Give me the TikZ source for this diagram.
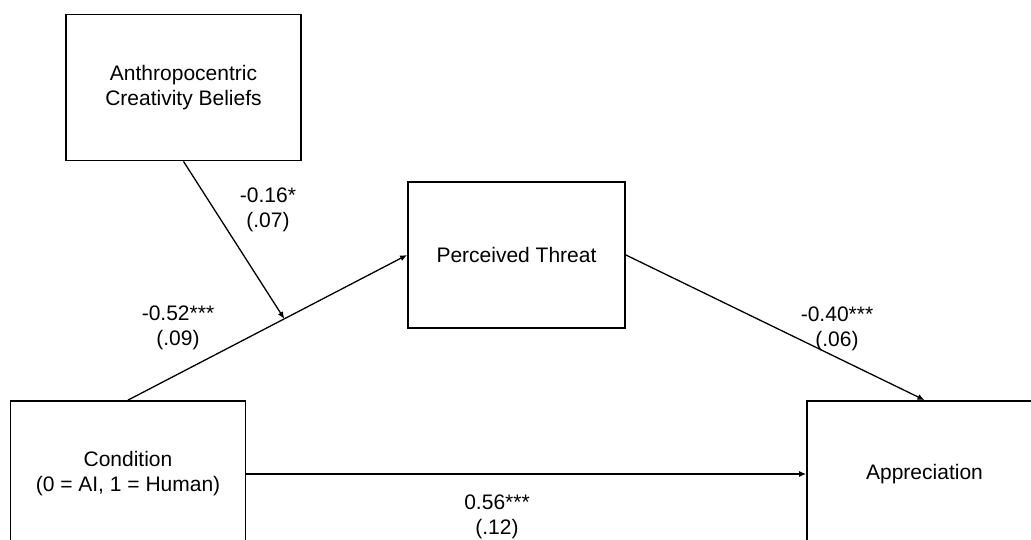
\documentclass[tikz,border=0pt]{standalone}
\usepackage{fontspec}
\setmainfont{Liberation Sans}
\usetikzlibrary{arrows.meta,calc}

\begin{document}
\begin{tikzpicture}[
  x=1pt,y=-1pt,
  font=\fontsize{21}{25}\selectfont,
  >={Latex[length=7pt,width=6pt]},
  box/.style={draw,line width=1.8pt,align=center,inner sep=0pt,
              minimum width=235pt,minimum height=146pt},
  coef/.style={align=center,inner sep=0pt},
  flow/.style={->,line width=1.3pt},
]
\useasboundingbox (0,0) rectangle (1031,540);
\clip (0,0) rectangle (1031,540);

% ---------------- variables ----------------
\node[box] (anth) at (183.5,87.5) {Anthropocentric\\Creativity Beliefs};
\node[box,minimum width=217pt] (threat) at (516.5,255) {Perceived Threat};
\node[box] (cond) at (128,474) {Condition\\(0 = AI, 1 = Human)};
\node[box] (appr) at (924.5,474) {Appreciation};

% ---------------- paths ----------------
\coordinate (mod) at ($(cond.north)!0.56!(threat.west)$);
\draw[flow] (cond.north) -- (threat.west);
\draw[flow] (anth.south) -- (mod);
\draw[flow] (threat.east) -- (appr.north);
\draw[flow] (cond.east) -- (appr.west);

% ---------------- coefficients ----------------
\node[coef] (cAnth)   at (268,210) {-0.16*\\(.07)};
\node[coef] (cCond)   at (178,328) {-0.52***\\(.09)};
\node[coef] (cThreat) at (837,329) {-0.40***\\(.06)};
\node[coef] (cDirect) at (497,517) {0.56***\\(.12)};

\end{tikzpicture}
\end{document}
